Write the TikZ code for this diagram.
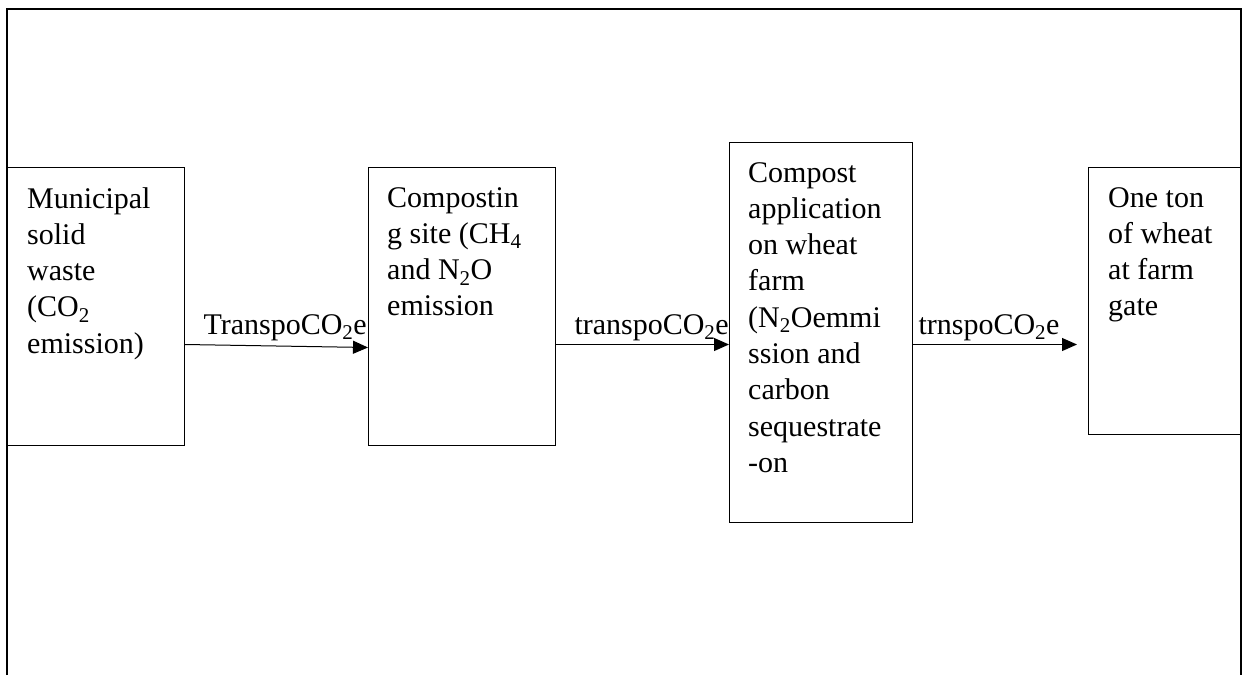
\documentclass[tikz,border=0pt]{standalone}
\usepackage{fontspec}
\setmainfont{Liberation Serif}
\usetikzlibrary{arrows.meta}

\begin{document}
\begin{tikzpicture}[x=1pt, y=-1pt,
    box/.style={draw, line width=1pt, inner sep=0pt, anchor=north west},
    boxtext/.style={anchor=north west, inner sep=0pt, align=left, font=\fontsize{30}{36.3}\selectfont},
    lbl/.style={inner sep=0pt, anchor=base west, font=\fontsize{30}{36.3}\selectfont},
    flow/.style={line width=1pt, -{Triangle[length=15pt,width=13pt]}}]
    \useasboundingbox (0,0) rectangle (1248,675);
    \draw[line width=1.6pt] (7,675) -- (7,9) -- (1241,9) -- (1241,675);
    \node[box, minimum width=177pt, minimum height=278pt] (msw) at (7,167) {};
    \node[box, minimum width=187pt, minimum height=278pt] (cmp) at (368,167) {};
    \node[box, minimum width=183pt, minimum height=380pt] (app) at (729,142) {};
    \node[box, minimum width=153pt, minimum height=267pt] (wht) at (1088,167) {};
    \node[boxtext] (msw-t) at ([shift={(20,20)}]msw.north west) {Municipal\\solid\\waste\\(CO\textsubscript{2}\\emission)};
    \node[boxtext] (cmp-t) at ([shift={(19,20)}]cmp.north west) {Compostin\\g site (CH\textsubscript{4}\\and N\textsubscript{2}O\\emission};
    \node[boxtext] (app-t) at ([shift={(19,20)}]app.north west) {Compost\\application\\on wheat\\farm\\(N\textsubscript{2}Oemmi\\ssion and\\carbon\\sequestrate\\-on};
    \node[boxtext] (wht-t) at ([shift={(20,20)}]wht.north west) {One ton\\of wheat\\at farm\\gate};
    \draw[flow] ([yshift=-38pt]msw.east) -- ([yshift=-41pt]cmp.west)
        node[lbl, at start, xshift=18pt, yshift=10pt] (t1) {TranspoCO\textsubscript{2}e};
    \draw[flow] ([yshift=-38pt]cmp.east) -- ([yshift=-12pt]app.west)
        node[lbl, at start, xshift=18pt, yshift=10pt] (t2) {transpoCO\textsubscript{2}e};
    \draw[flow] ([yshift=-12pt]app.east) -- ([xshift=-11pt, yshift=-43.5pt]wht.west)
        node[lbl, at start, xshift=5pt, yshift=10pt] (t3) {trnspoCO\textsubscript{2}e};
\end{tikzpicture}
\end{document}
